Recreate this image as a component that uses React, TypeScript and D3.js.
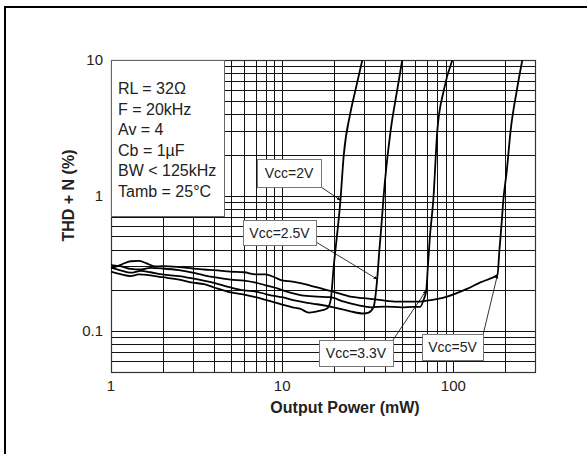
import React from "react";
import * as d3 from "d3";

type Pt = [number, number];

const xTickLabels = ["1", "10", "100"];
const xTickValues = [1, 10, 100];
const yTickLabels = ["0.1", "1", "10"];
const yTickValues = [0.1, 1, 10];

const legendLines = ["RL = 32\u03A9", "F = 20kHz", "Av = 4", "Cb = 1\u00B5F", "BW < 125kHz", "Tamb = 25\u00B0C"];

const seriesNames = ["Vcc=2V", "Vcc=2.5V", "Vcc=3.3V", "Vcc=5V"];

const vcc2: Pt[] = [[1,0.275],[1.15,0.262],[1.3,0.255],[1.45,0.262],[1.7,0.258],[2,0.25],[2.5,0.24],[3,0.228],[3.5,0.222],[4,0.21],[5,0.193],[6,0.186],[7,0.178],[8,0.17],[10,0.157],[11.5,0.15],[12.8,0.146],[14.3,0.137],[16,0.14],[18.3,0.147],[19.2,0.169],[20,0.298],[21.9,0.925],[22.9,1.99],[25,4.04],[26.8,6],[29.4,10]];
const vcc25: Pt[] = [[1,0.295],[1.15,0.28],[1.3,0.27],[1.5,0.278],[1.7,0.272],[2,0.262],[2.5,0.255],[3,0.245],[4,0.227],[5,0.21],[6,0.2],[7,0.196],[8,0.188],[9,0.182],[10,0.178],[12,0.168],[14,0.162],[16,0.158],[20,0.15],[25,0.14],[30,0.135],[32,0.137],[34.2,0.151],[35.9,0.242],[37,0.4],[38,0.6],[39,0.93],[43,3.0],[47,6.0],[50.3,10]];
const vcc33: Pt[] = [[1,0.307],[1.15,0.3],[1.3,0.288],[1.5,0.285],[1.7,0.293],[2,0.29],[2.5,0.282],[3,0.27],[3.5,0.258],[4,0.25],[5,0.24],[6,0.236],[7,0.228],[8,0.218],[9,0.21],[10,0.201],[13,0.184],[16,0.18],[19,0.178],[23,0.165],[28,0.155],[33,0.15],[40,0.152],[50,0.15],[58,0.151],[64,0.151],[67,0.17],[69.5,0.2],[71,0.3],[73,0.5],[76.4,0.93],[80.6,3.0],[88,6.0],[98.7,10]];
const vcc5: Pt[] = [[1,0.29],[1.15,0.31],[1.3,0.328],[1.45,0.33],[1.6,0.318],[1.8,0.3],[2,0.302],[2.5,0.297],[3,0.29],[3.5,0.285],[4,0.282],[5,0.275],[6,0.272],[7,0.262],[8,0.262],[9,0.25],[10,0.237],[11.5,0.232],[13,0.225],[16,0.21],[20,0.195],[25,0.18],[30,0.175],[37,0.17],[47,0.165],[60,0.165],[70,0.168],[92,0.18],[120,0.205],[145,0.23],[165,0.245],[181,0.26],[186,0.4],[191,0.6],[196,0.93],[205,1.5],[216,3.0],[235,6],[253,10]];

const series = [vcc2, vcc25, vcc33, vcc5];
// data point each label arrow points to
const arrowTargets: Pt[] = [[21.9, 0.925], [35.9, 0.242], [69.5, 0.2], [181, 0.26]];

const W = 587, H = 454;
const L = 111, R = 535, T = 60, B = 372;

export default function App() {
  const x = d3.scaleLog().domain([1, 300]).range([L, R]);
  const y = d3.scaleLog().domain([0.05, 10]).range([B, T]);

  const xGrid: number[] = [];
  [1, 10, 100].forEach((d) => { for (let k = 1; k <= 9; k++) { const v = k * d; if (v <= 300) xGrid.push(v); } });
  const yGrid: number[] = [];
  [0.01, 0.1, 1].forEach((d) => { for (let k = 1; k <= 9; k++) { const v = +(k * d).toFixed(4); if (v >= 0.05 && v <= 10) yGrid.push(v); } });
  yGrid.push(10);

  const line = d3.line<Pt>().x((d) => x(d[0])).y((d) => y(d[1])).curve(d3.curveMonotoneX);

  const font = "'Liberation Sans', Arial, sans-serif";

  // annotation boxes (layout)
  const boxes = [
    { x0: 257, y0: 159, w: 64, h: 28, ax: 321, ay: 187 },
    { x0: 243, y0: 220, w: 73, h: 25, ax: 316, ay: 242 },
    { x0: 319, y0: 340, w: 74, h: 26, ax: 393, ay: 340 },
    { x0: 422, y0: 334, w: 61, h: 26, ax: 483, ay: 335 },
  ];

  return (
    <svg width={W} height={H} style={{ position: "absolute", left: 0, top: 0 }} fontFamily={font}>
      <defs>
        <marker id="ah" viewBox="0 0 10 10" refX="9" refY="5" markerWidth="5" markerHeight="5" orient="auto">
          <path d="M0,1 L10,5 L0,9 z" fill="#000" />
        </marker>
        <clipPath id="plot"><rect x={L} y={T} width={R - L} height={B - T} /></clipPath>
      </defs>
      <rect x={0} y={0} width={W} height={H} fill="#fff" />
      <rect x={5} y={7} width={W + 20} height={H + 20} fill="none" stroke="#000" strokeWidth={2} />
      {xGrid.map((v) => (
        <line key={"gx" + v} x1={Math.round(x(v)) + 0.5} x2={Math.round(x(v)) + 0.5} y1={T} y2={B} stroke="#111" strokeWidth={1} />
      ))}
      {yGrid.map((v) => (
        <line key={"gy" + v} x1={L} x2={R} y1={Math.round(y(v)) + 0.5} y2={Math.round(y(v)) + 0.5} stroke="#111" strokeWidth={1} />
      ))}
      <rect x={L + 0.5} y={T + 0.5} width={R - L} height={B - T} fill="none" stroke="#333" strokeWidth={1.2} />
      {/* legend box */}
      <rect x={L + 0.5} y={T + 0.5} width={113} height={156} fill="#fff" stroke="#666" strokeWidth={1} />
      {legendLines.map((t, i) => (
        <text key={t} x={118} y={94 + i * 20.5} fontSize={16} fill="#222">{t}</text>
      ))}
      <g clipPath="url(#plot)">
        {series.map((s, i) => (
          <path key={seriesNames[i]} d={line(s) || ""} fill="none" stroke="#000" strokeWidth={1.8} />
        ))}
      </g>
      {boxes.map((b, i) => (
        <g key={"ann" + i}>
          <line x1={b.ax} y1={b.ay} x2={x(arrowTargets[i][0])} y2={y(arrowTargets[i][1])} stroke="#000" strokeWidth={0.8} markerEnd="url(#ah)" />
          <rect x={b.x0 + 0.5} y={b.y0 + 0.5} width={b.w} height={b.h} fill="#fff" stroke="#777" strokeWidth={1} />
          <text x={b.x0 + b.w / 2} y={b.y0 + b.h / 2 + 5} textAnchor="middle" fontSize={14} fill="#222">{seriesNames[i]}</text>
        </g>
      ))}
      {yTickValues.map((v, i) => (
        <text key={"yt" + v} x={103} y={y(v) + 5} textAnchor="end" fontSize={15} fill="#222">{yTickLabels[i]}</text>
      ))}
      {xTickValues.map((v, i) => (
        <text key={"xt" + v} x={x(v)} y={391} textAnchor="middle" fontSize={15} fill="#222">{xTickLabels[i]}</text>
      ))}
      <text x={345} y={413} textAnchor="middle" fontSize={16} fontWeight="bold" fill="#222">Output Power (mW)</text>
      <text transform="translate(74,195.5) rotate(-90)" textAnchor="middle" fontSize={16} fontWeight="bold" fill="#222">THD + N (%)</text>
    </svg>
  );
}
